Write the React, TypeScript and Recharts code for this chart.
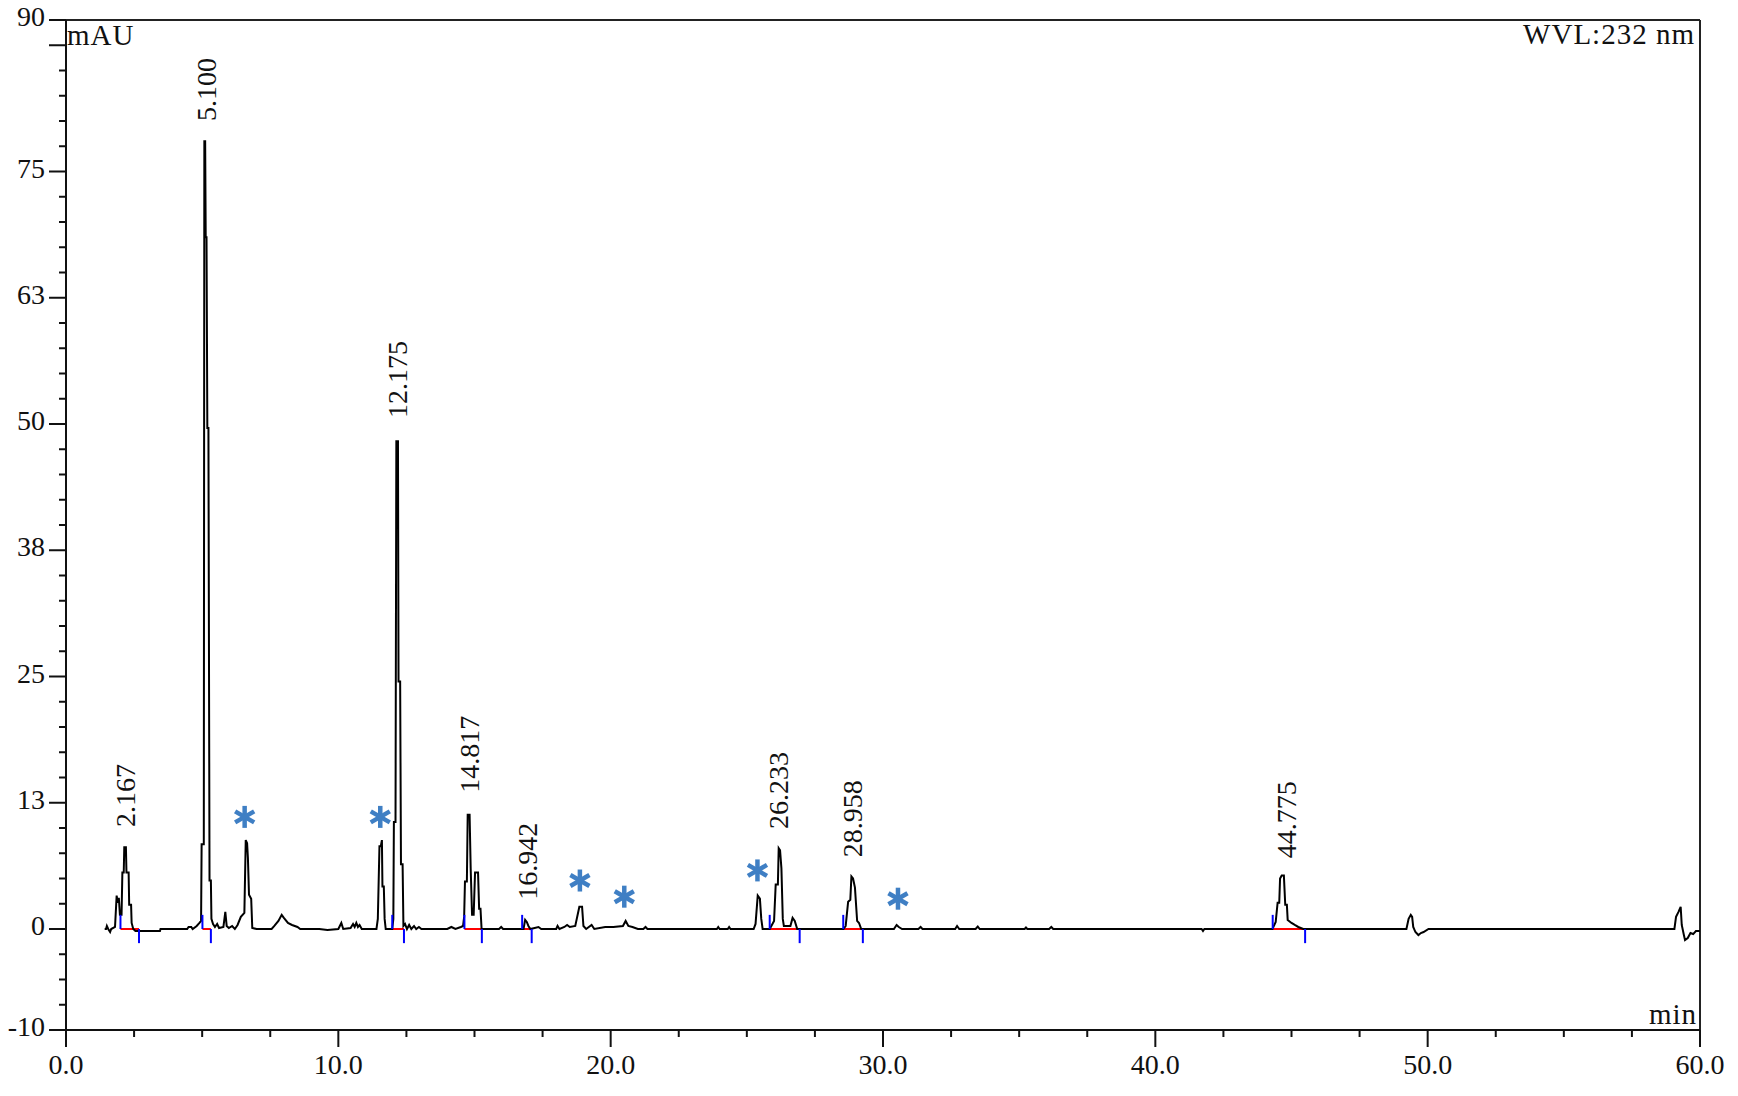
import React from "react";
import { ComposedChart, Line, Scatter, XAxis, YAxis, ReferenceLine } from "recharts";

// chromatogram trace, [time (min), signal (mAU)]
const traceEarly: [number, number][] = [
  [1.42, 0], [1.47, 0], [1.5, 0.3], [1.55, 0], [1.62, -0.3], [1.66, 0], [1.8, 0.2],
  [1.86, 3.3], [1.9, 2.6], [1.94, 3.1], [1.98, 1.4], [2.04, 1.4], [2.07, 5.6], [2.12, 5.6],
  [2.14, 8.1], [2.2, 8.1], [2.22, 5.6], [2.3, 5.6], [2.32, 2.4], [2.39, 2.4], [2.41, 0.6],
  [2.47, 0], [2.55, -0.2], [3.45, -0.2], [3.47, 0], [4.45, 0], [4.5, 0.2], [4.6, 0.2],
  [4.65, 0], [4.8, 0.3], [4.9, 0.6], [4.96, 0.8], [4.98, 8.4], [5.06, 8.4], [5.08, 78.0],
  [5.11, 78.0], [5.13, 68.5], [5.16, 68.5], [5.19, 49.6], [5.23, 49.6], [5.27, 4.8],
  [5.32, 4.8], [5.34, 1.0], [5.4, 0.5], [5.47, 0.2], [5.55, 0.5], [5.62, 0.1], [5.78, 0.2],
  [5.85, 1.7], [5.9, 0.3], [5.98, 0.1], [6.1, 0.3], [6.2, 0], [6.3, 0.4], [6.42, 1.2],
  [6.55, 1.6], [6.6, 8.8], [6.65, 8.5], [6.68, 7.0], [6.72, 3.4], [6.8, 3.0], [6.84, 0.1],
  [7.0, 0], [7.55, 0], [7.65, 0.3], [7.8, 0.8], [7.92, 1.4], [8.0, 1.1], [8.15, 0.6],
  [8.3, 0.4], [8.5, 0.2], [8.6, 0], [9.3, 0], [9.6, -0.1], [10.0, 0],
];

const traceMiddle: [number, number][] = [
  [10.11, 0.6], [10.18, 0], [10.45, 0.1], [10.54, 0.5], [10.6, 0.2], [10.66, 0.6],
  [10.72, 0.2], [10.78, 0.4], [10.86, 0], [11.4, 0], [11.45, 1.0], [11.51, 8.2],
  [11.56, 8.2], [11.6, 8.8], [11.62, 4.2], [11.67, 4.2], [11.7, 1.0], [11.74, 0],
  [11.98, 0], [12.02, 1.0], [12.04, 10.6], [12.1, 10.6], [12.13, 48.3], [12.19, 48.3],
  [12.21, 24.5], [12.27, 24.5], [12.3, 6.4], [12.36, 6.4], [12.39, 0.3], [12.45, 0.5],
  [12.52, 0], [12.6, 0.4], [12.68, 0], [12.78, 0.3], [12.86, 0], [12.96, 0.2], [13.05, 0],
  [14.0, 0], [14.15, 0.2], [14.3, 0], [14.5, 0.2], [14.58, 0.3], [14.62, 1.2], [14.65, 4.7],
  [14.72, 4.7], [14.75, 11.3], [14.82, 11.3], [14.86, 6.0], [14.91, 1.4], [14.97, 1.4],
  [15.02, 5.6], [15.13, 5.6], [15.17, 2.0], [15.22, 2.0], [15.26, 0], [15.9, 0],
  [15.98, 0.2], [16.05, 0], [16.8, 0], [16.86, 0.9], [16.92, 0.7], [16.98, 0.3], [17.05, 0],
  [17.35, 0.2], [17.45, 0], [18.0, 0], [18.05, 0.3], [18.12, 0], [18.3, 0.2], [18.4, 0.4],
  [18.5, 0.2], [18.7, 0.3], [18.85, 2.2], [18.95, 2.2], [19.0, 0.3], [19.1, 0], [19.3, 0.4],
  [19.4, 0], [19.8, 0.2], [20.1, 0.2], [20.45, 0.3], [20.55, 0.8], [20.65, 0.3], [20.8, 0.2],
  [21.0, 0], [21.2, 0], [21.28, 0.2], [21.35, 0], [23.9, 0], [23.95, 0.2], [24.0, 0],
  [24.3, 0], [24.35, 0.2], [24.4, 0], [25.25, 0], [25.32, 0.5], [25.4, 3.3], [25.48, 3.0],
  [25.53, 1.0], [25.58, 0], [25.84, 0], [25.9, 0.3], [26.0, 0.8], [26.06, 4.4], [26.14, 4.4],
  [26.17, 8.0], [26.22, 7.8], [26.27, 6.0], [26.32, 1.0], [26.36, 0.3], [26.6, 0.3],
  [26.68, 1.1], [26.76, 0.8], [26.85, 0], [28.55, 0], [28.63, 0.3], [28.72, 2.7],
  [28.8, 2.9], [28.84, 5.2], [28.9, 5.0], [28.97, 4.1], [29.05, 0.8], [29.12, 0.6],
  [29.2, 0], [30.4, 0], [30.5, 0.4], [30.58, 0.2], [30.7, 0],
];

const traceLate: [number, number][] = [
  [31.3, 0], [31.38, 0.2], [31.45, 0], [32.65, 0], [32.72, 0.3], [32.8, 0], [33.4, 0],
  [33.48, 0.25], [33.55, 0], [35.2, 0], [35.25, 0.15], [35.3, 0], [36.1, 0], [36.18, 0.2],
  [36.25, 0], [41.7, 0], [41.75, -0.2], [41.8, 0], [44.3, 0], [44.42, 0.7], [44.49, 2.6],
  [44.55, 2.6], [44.58, 5.0], [44.64, 5.3], [44.72, 5.3], [44.77, 2.4], [44.83, 2.4],
  [44.86, 0.9], [45.0, 0.6], [45.12, 0.4], [45.25, 0.2], [45.43, 0], [49.22, 0],
  [49.3, 1.0], [49.38, 1.4], [49.43, 1.2], [49.47, 0.2], [49.55, -0.3], [49.66, -0.6],
  [49.75, -0.4], [49.85, -0.3], [50.03, 0], [59.06, 0], [59.12, 1.2], [59.21, 1.7],
  [59.29, 2.2], [59.33, 0.4], [59.4, -0.5], [59.45, -1.1], [59.55, -0.9], [59.65, -0.4],
  [59.75, -0.5], [59.85, -0.2], [60, -0.2],
];

// labelled peaks: retention time text and where the label sits
const peakLabels = ["2.167", "5.100", "12.175", "14.817", "16.942", "26.233", "28.958", "44.775"];
const peakLabelTime = [2.19, 5.16, 12.17, 14.81, 16.95, 26.18, 28.87, 44.8];
const peakLabelMau = [10.1, 80, 50.6, 13.5, 2.9, 9.9, 7.1, 7.0];

// integration window of each labelled peak
const peakStart = [2.0, 5.01, 11.98, 14.63, 16.75, 25.84, 28.54, 44.31];
const peakEnd = [2.68, 5.32, 12.41, 15.27, 17.1, 26.94, 29.26, 45.5];

// blue asterisks
const starTime = [6.56, 11.54, 18.87, 20.5, 25.39, 30.55];
const starMau = [11.1, 11.1, 4.8, 3.2, 5.8, 3.0];

// axis ticks
const yMajorTicks = [-10, 0, 12.5, 25, 37.5, 50, 62.5, 75, 87.5, 90];
const yMajorLabels = ["-10", "0", "13", "25", "38", "50", "63", "75", "", "90"];
const yMinorTicks = [
  -7.5, -5, -2.5, 2.5, 5, 7.5, 10, 15, 17.5, 20, 22.5, 27.5, 30, 32.5, 35, 40, 42.5, 45, 47.5,
  52.5, 55, 57.5, 60, 65, 67.5, 70, 72.5, 77.5, 80, 82.5, 85,
];
const xMajorTicks = [0, 10, 20, 30, 40, 50, 60];
const xMinorTicks = [2.5, 5, 7.5, 12.5, 15, 17.5, 22.5, 25, 27.5, 32.5, 35, 37.5, 42.5, 45, 47.5, 52.5, 55, 57.5];

const trace = [...traceEarly, ...traceMiddle, ...traceLate].map(([t, v]) => ({ t, v }));
const labelPoints = peakLabels.map((label, i) => ({ t: peakLabelTime[i], v: peakLabelMau[i], label }));
const starPoints = starTime.map((t, i) => ({ t, v: starMau[i] }));

const FONT = "'Liberation Serif', 'Times New Roman', serif";
const INK = "#111";
const STAR = "#3f7fc4";

function YTick(props: any) {
  const { x, y, payload } = props;
  const idx = yMajorTicks.indexOf(payload.value);
  const len = idx >= 0 ? 17 : 7;
  return (
    <g>
      <line x1={x - len} y1={y} x2={x} y2={y} stroke={INK} strokeWidth={2} />
      {idx >= 0 && yMajorLabels[idx] && (
        <text x={x - len - 4} y={y + 6} textAnchor="end" fontFamily={FONT} fontSize={28} fill={INK}>
          {yMajorLabels[idx]}
        </text>
      )}
    </g>
  );
}

function XTick(props: any) {
  const { x, y, payload } = props;
  const major = xMajorTicks.includes(payload.value);
  const len = major ? 17 : 7;
  return (
    <g>
      <line x1={x} y1={y} x2={x} y2={y + len} stroke={INK} strokeWidth={2} />
      {major && (
        <text x={x} y={y + 44} textAnchor="middle" fontFamily={FONT} fontSize={28} fill={INK}>
          {payload.value.toFixed(1)}
        </text>
      )}
    </g>
  );
}

function PeakLabel(props: any) {
  const { cx, cy, payload } = props;
  return (
    <text
      x={cx}
      y={cy}
      transform={`rotate(-90 ${cx} ${cy})`}
      textAnchor="start"
      dominantBaseline="central"
      fontFamily={FONT}
      fontSize={28}
      fill={INK}
    >
      {payload.label}
    </text>
  );
}

function Star(props: any) {
  const { cx, cy } = props;
  const r = 11;
  const arms = [90, 30, -30].map((deg) => {
    const a = (deg * Math.PI) / 180;
    return { dx: Math.cos(a) * r, dy: Math.sin(a) * r };
  });
  return (
    <g>
      {arms.map((p, i) => (
        <line key={i} x1={cx - p.dx} y1={cy - p.dy} x2={cx + p.dx} y2={cy + p.dy} stroke={STAR} strokeWidth={4.5} />
      ))}
    </g>
  );
}

export default function App() {
  return (
    <div style={{ position: "relative", width: 1738, height: 1096, background: "#fff" }}>
      <style>{"body{margin:0}"}</style>
      <ComposedChart width={1738} height={1096} margin={{ top: 20, right: 38, left: 0, bottom: 0 }}>
        <XAxis
          type="number"
          dataKey="t"
          domain={[0, 60]}
          ticks={[...xMajorTicks, ...xMinorTicks].sort((a, b) => a - b)}
          interval={0}
          height={66}
          tickSize={0}
          tickMargin={0}
          tickLine={false}
          tick={<XTick />}
          axisLine={{ stroke: INK, strokeWidth: 2 }}
          allowDataOverflow
        />
        <YAxis
          type="number"
          dataKey="v"
          domain={[-10, 90]}
          ticks={[...yMajorTicks, ...yMinorTicks].sort((a, b) => a - b)}
          interval={0}
          width={66}
          tickSize={0}
          tickMargin={0}
          tickLine={false}
          tick={<YTick />}
          axisLine={{ stroke: INK, strokeWidth: 2 }}
          allowDataOverflow
        />
        <ReferenceLine y={90} stroke="#222" strokeWidth={2} ifOverflow="visible" />
        <ReferenceLine x={60} stroke="#222" strokeWidth={2} ifOverflow="visible" />
        {peakStart.map((s, i) => (
          <ReferenceLine
            key={`base${i}`}
            segment={[{ x: s, y: 0 }, { x: peakEnd[i], y: 0 }]}
            stroke="#ff0000"
            strokeWidth={2}
            ifOverflow="visible"
          />
        ))}
        <Line
          data={trace}
          dataKey="v"
          type="linear"
          stroke="#000"
          strokeWidth={2}
          dot={false}
          isAnimationActive={false}
        />
        {peakStart.map((s, i) => (
          <ReferenceLine
            key={`st${i}`}
            segment={[{ x: s, y: 0 }, { x: s, y: 1.4 }]}
            stroke="#0000ff"
            strokeWidth={2}
            ifOverflow="visible"
          />
        ))}
        {peakEnd.map((e, i) => (
          <ReferenceLine
            key={`en${i}`}
            segment={[{ x: e, y: 0 }, { x: e, y: -1.4 }]}
            stroke="#0000ff"
            strokeWidth={2}
            ifOverflow="visible"
          />
        ))}
        <Scatter data={labelPoints} dataKey="v" shape={<PeakLabel />} isAnimationActive={false} />
        <Scatter data={starPoints} dataKey="v" shape={<Star />} isAnimationActive={false} />
      </ComposedChart>
      <svg width={1738} height={1096} style={{ position: "absolute", left: 0, top: 0, pointerEvents: "none" }}>
        <text x={67} y={45} fontFamily={FONT} fontSize={29} letterSpacing={1} fill={INK}>
          mAU
        </text>
        <text x={1695} y={44} textAnchor="end" fontFamily={FONT} fontSize={29} letterSpacing={1} fill={INK}>
          WVL:232 nm
        </text>
        <text x={1697} y={1024} textAnchor="end" fontFamily={FONT} fontSize={29} letterSpacing={1} fill={INK}>
          min
        </text>
      </svg>
    </div>
  );
}
